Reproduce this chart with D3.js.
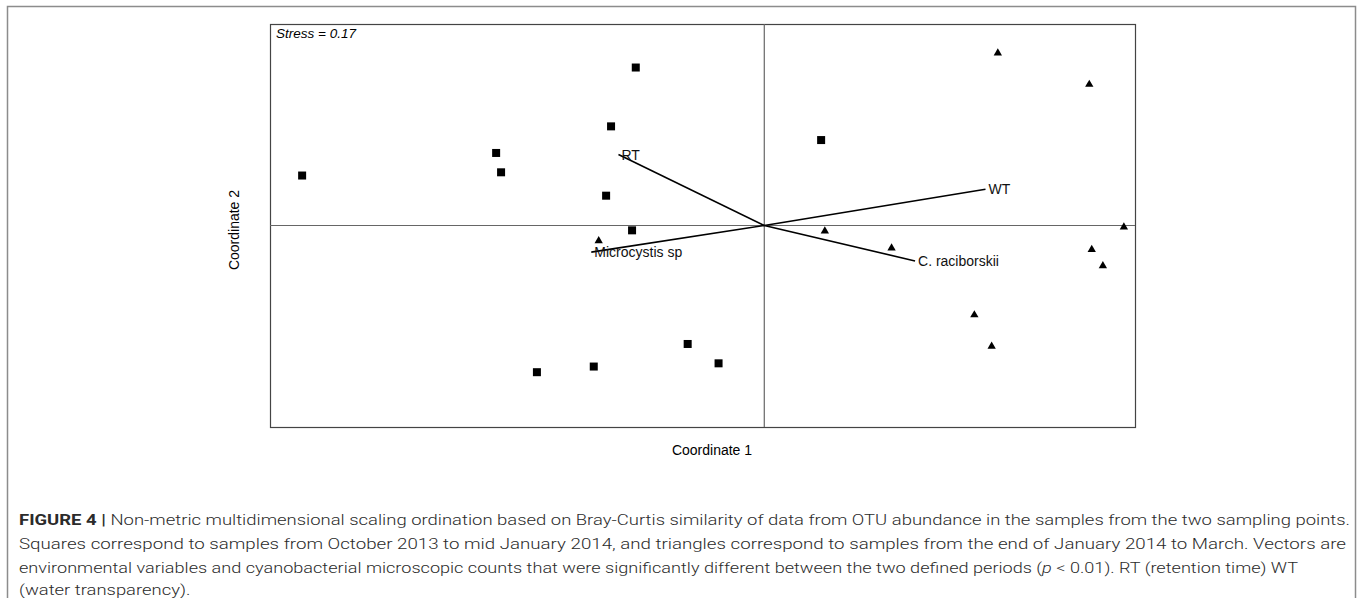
<!DOCTYPE html>
<html>
<head>
<meta charset="utf-8">
<script src="https://cdn.jsdelivr.net/npm/d3@7"></script>
<style>
  html, body { margin: 0; padding: 0; background: #fff; }
  svg { display: block; }
</style>
</head>
<body>
<div id="chart"></div>
<script>
// NMDS scores (coordinate 1, coordinate 2)
const squareSamples = [
  [-0.104, 0.196], [-0.124, 0.123], [-0.217, 0.090], [-0.213, 0.066],
  [-0.374, 0.062], [-0.128, 0.037], [-0.107, -0.006], [0.046, 0.106],
  [-0.062, -0.147], [-0.037, -0.171], [-0.138, -0.175], [-0.184, -0.182]
];
const triangleSamples = [
  [0.189, 0.214], [0.263, 0.175], [0.291, -0.002], [0.049, -0.007],
  [0.103, -0.028], [0.265, -0.030], [0.274, -0.050], [0.170, -0.111],
  [0.184, -0.150], [-0.134, -0.019]
];
const vectorNames = ["RT", "WT", "C. raciborskii", "Microcystis sp"];
const vectorEnds = [[-0.118, 0.088], [0.179, 0.045], [0.122, -0.044], [-0.140, -0.033]];

const stressLabel = "Stress = 0.17";
const xTitle = "Coordinate 1";
const yTitle = "Coordinate 2";
const captionLines = [
  "Non-metric multidimensional scaling ordination based on Bray-Curtis similarity of data from OTU abundance in the samples from the two sampling points.",
  "Squares correspond to samples from October 2013 to mid January 2014, and triangles correspond to samples from the end of January 2014 to March. Vectors are",
  "environmental variables and cyanobacterial microscopic counts that were significantly different between the two defined periods (p <  0.01). RT (retention time) WT",
  "(water transparency)."
];

const W = 1360, H = 598;
const box = { left: 270, right: 1135, top: 24, bottom: 427 };

const x = d3.scaleLinear().domain([-0.4, 0.3]).range([box.left, box.right]);
const y = d3.scaleLinear().domain([-0.25, 0.25]).range([box.bottom, box.top]);

const svg = d3.select("#chart").append("svg")
  .attr("width", W).attr("height", H)
  .attr("viewBox", [0, 0, W, H]);

svg.append("rect").attr("width", W).attr("height", H).attr("fill", "#fff");

// outer figure frame (bottom edge falls outside the picture)
svg.append("rect")
  .attr("x", 7.5).attr("y", 6.5)
  .attr("width", 1348).attr("height", 620)
  .attr("fill", "none").attr("stroke", "#8c8c8c").attr("stroke-width", 1.5);

// plot box
svg.append("rect")
  .attr("x", box.left + 0.5).attr("y", box.top + 0.5)
  .attr("width", box.right - box.left).attr("height", box.bottom - box.top)
  .attr("fill", "none").attr("stroke", "#444").attr("stroke-width", 1.2);

// zero lines
svg.append("line")
  .attr("x1", x(0)).attr("x2", x(0))
  .attr("y1", box.top).attr("y2", box.bottom)
  .attr("stroke", "#666").attr("stroke-width", 1.2);
svg.append("line")
  .attr("x1", box.left).attr("x2", box.right)
  .attr("y1", y(0)).attr("y2", y(0))
  .attr("stroke", "#666").attr("stroke-width", 1.2);

const font = "Arial, 'Liberation Sans', Helvetica, sans-serif";

// vectors
const vectors = vectorNames.map((name, i) => ({ name, c1: vectorEnds[i][0], c2: vectorEnds[i][1] }));
svg.append("g").selectAll("line")
  .data(vectors)
  .join("line")
  .attr("x1", x(0)).attr("y1", y(0))
  .attr("x2", d => x(d.c1)).attr("y2", d => y(d.c2))
  .attr("stroke", "#000").attr("stroke-width", 1.6);

svg.append("g").selectAll("text")
  .data(vectors)
  .join("text")
  .attr("x", d => x(d.c1) + 3)
  .attr("y", d => y(d.c2) + 5)
  .attr("font-family", font)
  .attr("font-size", 14)
  .attr("fill", "#111")
  .text(d => d.name);

// samples
svg.append("g").selectAll("rect")
  .data(squareSamples)
  .join("rect")
  .attr("x", d => x(d[0]) - 4).attr("y", d => y(d[1]) - 4)
  .attr("width", 8).attr("height", 8)
  .attr("fill", "#000");

const tri = d3.symbol(d3.symbolTriangle, 30);
svg.append("g").selectAll("path")
  .data(triangleSamples)
  .join("path")
  .attr("transform", d => `translate(${x(d[0])},${y(d[1])})`)
  .attr("d", tri)
  .attr("fill", "#000");

// stress
svg.append("text")
  .attr("x", box.left + 6).attr("y", box.top + 14)
  .attr("font-family", font).attr("font-size", 13.5)
  .attr("font-style", "italic")
  .text(stressLabel);

// axis titles
svg.append("text")
  .attr("x", 712).attr("y", 455)
  .attr("text-anchor", "middle")
  .attr("font-family", font).attr("font-size", 14)
  .text(xTitle);

svg.append("text")
  .attr("transform", `translate(239,230) rotate(-90)`)
  .attr("text-anchor", "middle")
  .attr("font-family", font).attr("font-size", 14)
  .text(yTitle);

// caption: the original face is condensed, so squeeze lines to the widths seen
const capFont = "Roboto, 'Liberation Sans', Arial, sans-serif";
const capLeft = 19;
const capEnds = [1350, 1346, 1298];
const capBase = [525, 549, 573, 595];
const capTexts = captionLines.map((line, i) => {
  const t = svg.append("text")
    .attr("x", capLeft).attr("y", capBase[i])
    .attr("font-family", capFont).attr("font-size", 15)
    .attr("font-weight", 300)
    .attr("fill", "#2b2b2b");
  if (i === 0) {
    t.append("tspan").attr("font-weight", 700).text("FIGURE 4 | ");
    t.append("tspan").text(line);
  } else if (i === 2) {
    const k = line.indexOf("p <");
    t.append("tspan").text(line.slice(0, k));
    t.append("tspan").attr("font-style", "italic").text("p");
    t.append("tspan").text(line.slice(k + 1));
  } else {
    t.text(line);
  }
  return t;
});

const ratios = capEnds.map((end, i) => (end - capLeft) / capTexts[i].node().getComputedTextLength());
const squeeze = d3.mean(ratios);
capTexts.forEach((t, i) => {
  const len = i < capEnds.length ? capEnds[i] - capLeft : t.node().getComputedTextLength() * squeeze;
  t.attr("textLength", len).attr("lengthAdjust", "spacingAndGlyphs");
});
</script>
</body>
</html>
